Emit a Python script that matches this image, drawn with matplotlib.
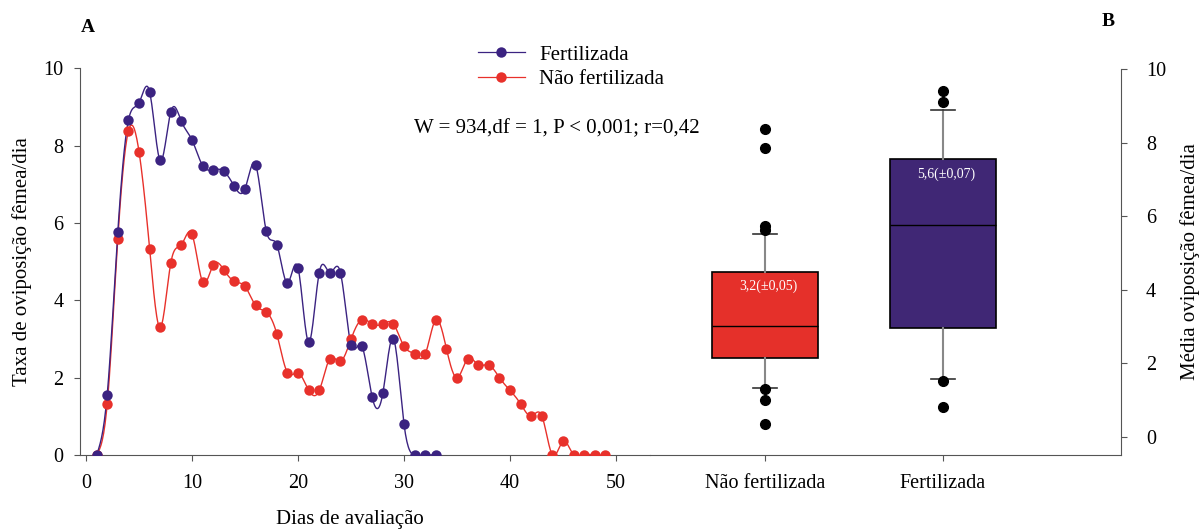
import numpy as np
import matplotlib
matplotlib.use("Agg")
import matplotlib.pyplot as plt
from matplotlib.lines import Line2D

plt.rcParams['font.family'] = ['Liberation Serif', 'DejaVu Serif']

# Painel A: taxa diária de oviposição
dias_fert = list(range(1, 34))
taxa_fert = [0, 1.56, 5.77, 8.66, 9.11, 9.40, 7.62, 8.88, 8.63, 8.15, 7.49, 7.38,
             7.34, 6.95, 6.89, 7.51, 5.80, 5.44, 4.45, 4.84, 2.92, 4.72, 4.72, 4.72,
             2.85, 2.83, 1.49, 1.60, 3.01, 0.79, 0, 0, 0]
dias_nfert = list(range(1, 50))
taxa_nfert = [0, 1.32, 5.60, 8.38, 7.85, 5.34, 3.30, 4.97, 5.44, 5.71, 4.48, 4.92,
              4.79, 4.49, 4.36, 3.87, 3.70, 3.13, 2.13, 2.13, 1.68, 1.67, 2.49, 2.42,
              3.00, 3.50, 3.39, 3.39, 3.39, 2.81, 2.61, 2.61, 3.50, 2.75, 2.00, 2.49,
              2.33, 2.33, 2.00, 1.67, 1.32, 1.01, 1.01, 0, 0.35, 0, 0, 0, 0]

# Painel B: resumo dos boxplots
grupos = ['Não fertilizada', 'Fertilizada']
q1 = [2.14, 2.97]
mediana = [3.01, 5.76]
q3 = [4.49, 7.55]
whis_lo = [1.33, 1.57]
whis_hi = [5.52, 8.89]
outliers = [[8.38, 7.85, 5.72, 5.62, 1.30, 1.01, 0.35],
            [9.40, 9.10, 1.52, 0.81]]
medias = ['3,2(±0,05)', '5,6(±0,07)']
pos_media = [4.1, 7.15]

azul = '#3b2381'
vermelho = '#e8312b'
caixa_cor = ['#e5302a', '#402775']
eixo_cor = '#555555'


def spline_natural(x, y, n=15):
    x = np.asarray(x, float)
    y = np.asarray(y, float)
    h = np.diff(x)
    k = len(x)
    A = np.zeros((k, k))
    b = np.zeros(k)
    A[0, 0] = A[-1, -1] = 1
    for i in range(1, k - 1):
        A[i, i - 1] = h[i - 1]
        A[i, i] = 2 * (h[i - 1] + h[i])
        A[i, i + 1] = h[i]
        b[i] = 6 * ((y[i + 1] - y[i]) / h[i] - (y[i] - y[i - 1]) / h[i - 1])
    M = np.linalg.solve(A, b)
    xs, ys = [], []
    for i in range(k - 1):
        t = np.linspace(x[i], x[i + 1], n, endpoint=False)
        a = x[i + 1] - t
        c = t - x[i]
        s = (M[i] * a**3 + M[i + 1] * c**3) / (6 * h[i]) \
            + (y[i] / h[i] - M[i] * h[i] / 6) * a \
            + (y[i + 1] / h[i] - M[i + 1] * h[i] / 6) * c
        xs.extend(t)
        ys.extend(s)
    xs.append(x[-1])
    ys.append(y[-1])
    return np.array(xs), np.array(ys)


fig = plt.figure(figsize=(12.03, 5.32), dpi=100)
bottom, height = 77 / 532, (455 - 68.5) / 532
axA = fig.add_axes([80 / 1203, bottom, 570 / 1203, height])
axB = fig.add_axes([650 / 1203, bottom, 471 / 1203, height])
axB.patch.set_visible(False)

# ---- painel A
xs, ys = spline_natural(dias_nfert, taxa_nfert)
axA.plot(xs, ys, color=vermelho, lw=1.0, zorder=2)
axA.plot(dias_nfert, taxa_nfert, 'o', color=vermelho, ms=7.5, mec='none', zorder=3)
xs, ys = spline_natural(dias_fert, taxa_fert)
axA.plot(xs, ys, color=azul, lw=1.0, zorder=2)
axA.plot(dias_fert, taxa_fert, 'o', color=azul, ms=7.5, mec='none', zorder=3)

axA.set_xlim(-0.566, 53.2)
axA.set_ylim(0, 10)
axA.set_xticks([0, 10, 20, 30, 40, 50])
axA.set_yticks([0, 2, 4, 6, 8, 10])
for s in ['top', 'right']:
    axA.spines[s].set_visible(False)
for s in ['left', 'bottom']:
    axA.spines[s].set_color(eixo_cor)
axA.tick_params(axis='both', colors=eixo_cor, labelcolor='black', labelsize=14.5, length=4)
axA.tick_params(axis='x', pad=10)
axA.tick_params(axis='y', pad=8)
axA.set_xlabel('Dias de avaliação', fontsize=15)
axA.xaxis.set_label_coords(0.473, -0.143)
axA.set_ylabel('Taxa de oviposição fêmea/dia', fontsize=15, labelpad=8)

h1 = Line2D([], [], color=azul, lw=0.9, marker='o', ms=7.5, mec='none')
h2 = Line2D([], [], color=vermelho, lw=0.9, marker='o', ms=7.5, mec='none')
fig.legend([h1, h2], ['Fertilizada', 'Não fertilizada'], loc='upper left',
           bbox_to_anchor=(478 / 1203, 1 - 45 / 532),
           frameon=False, fontsize=15, handlelength=2.25, handletextpad=0.7,
           borderpad=0, borderaxespad=0, labelspacing=0.25)

fig.text(557 / 1203, 1 - 129 / 532, 'W = 934,df = 1, P < 0,001; r=0,42',
         fontsize=15, ha='center', va='center')

# ---- painel B
stats = []
for i in range(2):
    stats.append(dict(med=mediana[i], q1=q1[i], q3=q3[i], whislo=whis_lo[i],
                      whishi=whis_hi[i], fliers=outliers[i]))
bp = axB.bxp(stats, positions=[1, 2], widths=0.6, patch_artist=True,
             capwidths=0.13,
             boxprops=dict(edgecolor='black', lw=1.2),
             medianprops=dict(color='black', lw=1.0),
             whiskerprops=dict(color='#888888', lw=1.5),
             capprops=dict(color='#333333', lw=1.2),
             flierprops=dict(marker='o', mfc='black', mec='black', ms=7))
for patch, c in zip(bp['boxes'], caixa_cor):
    patch.set_facecolor(c)
for i in range(2):
    axB.text(i + 1.02, pos_media[i], medias[i], color='white', fontsize=10,
             ha='center', va='center')

axB.set_xlim(0.354, 3.0)
axB.set_ylim(-0.5, 10.02)
axB.set_xticks([1, 2])
axB.set_xticklabels(grupos)
axB.set_yticks([0, 2, 4, 6, 8, 10])
axB.yaxis.tick_right()
axB.yaxis.set_label_position('right')
for s in ['top', 'left']:
    axB.spines[s].set_visible(False)
for s in ['right', 'bottom']:
    axB.spines[s].set_color(eixo_cor)
axB.tick_params(axis='both', colors=eixo_cor, labelcolor='black', labelsize=14.5, length=4)
axB.tick_params(axis='x', pad=10)
axB.tick_params(axis='y', pad=14)
axB.set_ylabel('Média oviposição fêmea/dia', fontsize=15, labelpad=10)

fig.text(88 / 1203, 1 - 28 / 532, 'A', fontsize=14, fontweight='bold', ha='center', va='center')
fig.text(1108 / 1203, 1 - 22 / 532, 'B', fontsize=14, fontweight='bold', ha='center', va='center')

fig.savefig('out.png', dpi=100)
